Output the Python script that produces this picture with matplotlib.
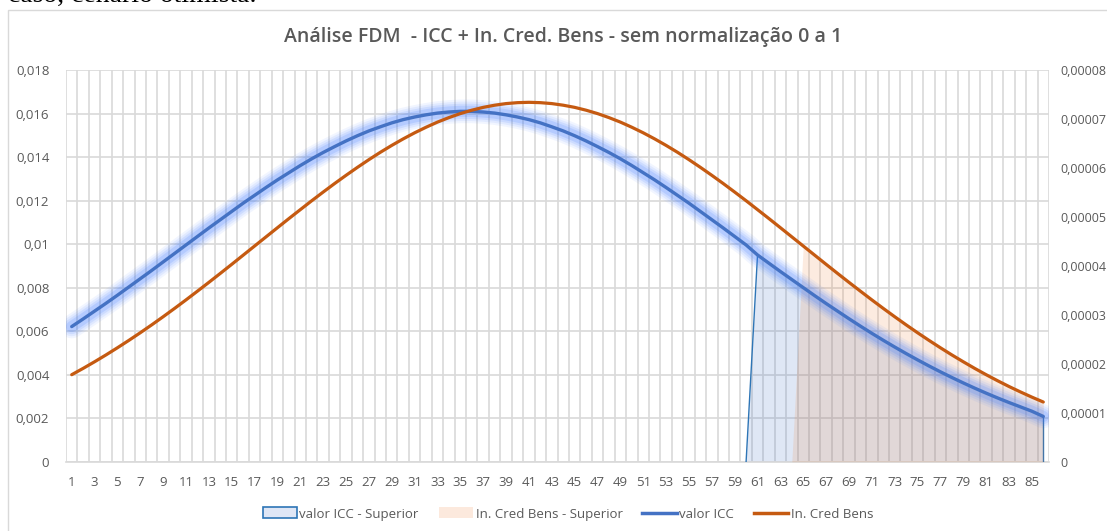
import numpy as np
import matplotlib.pyplot as plt
from matplotlib.patches import Patch, Rectangle
from matplotlib.lines import Line2D

# categories 1..86
categorias = list(range(1, 87))

# valor ICC (eixo principal)
valor_icc = [
    0.00621, 0.00656, 0.00692, 0.00728, 0.00765, 0.00803, 0.00841, 0.00879, 0.00918, 0.00957,
    0.00996, 0.01035, 0.01074, 0.01112, 0.01150, 0.01188, 0.01224, 0.01260, 0.01295, 0.01328,
    0.01361, 0.01392, 0.01421, 0.01448, 0.01474, 0.01498, 0.01520, 0.01539, 0.01557, 0.01572,
    0.01584, 0.01594, 0.01602, 0.01607, 0.01610, 0.01610, 0.01607, 0.01602, 0.01594, 0.01584,
    0.01572, 0.01557, 0.01539, 0.01520, 0.01498, 0.01474, 0.01448, 0.01421, 0.01392, 0.01361,
    0.01328, 0.01295, 0.01260, 0.01224, 0.01188, 0.01150, 0.01112, 0.01074, 0.01035, 0.00996,
    0.00950, 0.00912, 0.00874, 0.00837, 0.00800, 0.00763, 0.00727, 0.00692, 0.00657, 0.00623,
    0.00590, 0.00558, 0.00527, 0.00497, 0.00468, 0.00440, 0.00413, 0.00387, 0.00362, 0.00338,
    0.00315, 0.00293, 0.00272, 0.00252, 0.00232, 0.00208,
]

# In. Cred Bens (eixo secundario), em 1e-5
in_cred_bens_e5 = [
    1.777, 1.906, 2.041, 2.181, 2.327, 2.478, 2.634, 2.795, 2.961, 3.131,
    3.305, 3.483, 3.663, 3.846, 4.031, 4.218, 4.405, 4.592, 4.779, 4.965,
    5.148, 5.330, 5.507, 5.681, 5.849, 6.012, 6.169, 6.319, 6.460, 6.593,
    6.717, 6.831, 6.936, 7.028, 7.110, 7.179, 7.237, 7.281, 7.314, 7.333,
    7.340, 7.333, 7.314, 7.281, 7.237, 7.179, 7.110, 7.028, 6.936, 6.831,
    6.717, 6.593, 6.460, 6.319, 6.169, 6.012, 5.849, 5.681, 5.507, 5.330,
    5.148, 4.965, 4.779, 4.592, 4.405, 4.218, 4.031, 3.846, 3.663, 3.483,
    3.305, 3.131, 2.961, 2.795, 2.634, 2.478, 2.327, 2.181, 2.041, 1.906,
    1.777, 1.654, 1.536, 1.425, 1.319, 1.219,
]
in_cred_bens = [v * 1e-5 for v in in_cred_bens_e5]

# areas "Superior": zero ate o corte, depois igual a serie
corte_icc = 61
corte_bens = 65
icc_superior = [v if c >= corte_icc else 0.0 for c, v in zip(categorias, valor_icc)]
bens_superior = [v if c >= corte_bens else 0.0 for c, v in zip(categorias, in_cred_bens)]

y1_ticks = [0, 0.002, 0.004, 0.006, 0.008, 0.010, 0.012, 0.014, 0.016, 0.018]
y1_labels = ['0', '0,002', '0,004', '0,006', '0,008', '0,01', '0,012', '0,014', '0,016', '0,018']
y2_ticks = [0, 0.00001, 0.00002, 0.00003, 0.00004, 0.00005, 0.00006, 0.00007, 0.00008]
y2_labels = ['0', '0,00001', '0,00002', '0,00003', '0,00004', '0,00005', '0,00006', '0,00007', '0,00008']

titulo = 'Análise FDM  - ICC + In. Cred. Bens - sem normalização 0 a 1'

AZUL = '#4472C4'
LARANJA = '#C55A11'
CINZA = '#595959'
GRADE = '#d9d9d9'

fig = plt.figure(figsize=(11.07, 5.31), dpi=100)

# chart frame (behind everything)
fig.patches.append(Rectangle((8 / 1107, -0.1), 1.2, 1.1 - 9.5 / 531, transform=fig.transFigure,
                             facecolor='white', edgecolor=GRADE, linewidth=1.0, zorder=-10))

# document text peeking above the chart
fig.text(8 / 1107, 1 - 2 / 531, 'caso, cenário otimista.', family='Liberation Serif',
         fontsize=20, va='baseline', ha='left', color='black')

ax = fig.add_axes([66 / 1107, 1 - 461.7 / 531, (1049 - 66) / 1107, (461.7 - 70) / 531])
ax.patch.set_visible(False)
ax2 = ax.twinx()

x = np.array(categorias)

# grid
ax.set_xlim(0.5, 86.5)
ax.set_ylim(0, 0.018)
ax.set_xticks(x[::2])
ax.set_xticklabels([str(c) for c in categorias[::2]])
ax.set_xticks(np.arange(0.5, 87, 1.0), minor=True)
ax.set_yticks(y1_ticks)
ax.set_yticklabels(y1_labels)
ax.grid(True, which='minor', axis='x', color=GRADE, linewidth=1.2)
ax.grid(True, which='major', axis='y', color=GRADE, linewidth=1.2)
ax.set_axisbelow(True)
ax.tick_params(axis='both', which='both', length=0, colors=CINZA, labelsize=9.5)
ax.tick_params(axis='x', pad=10)
ax.tick_params(axis='y', pad=12)

ax2.set_ylim(0, 0.00008)
ax2.set_yticks(y2_ticks)
ax2.set_yticklabels(y2_labels)
ax2.tick_params(axis='y', length=0, colors=CINZA, labelsize=9, pad=8)

for a in (ax, ax2):
    for s in a.spines.values():
        s.set_visible(False)
ax.spines['bottom'].set_visible(True)
ax.spines['bottom'].set_color(GRADE)
ax.spines['bottom'].set_linewidth(1.2)

for lab in ax.get_xticklabels() + ax.get_yticklabels() + ax2.get_yticklabels():
    lab.set_family('Open Sans')

# areas
ax.fill_between(x, icc_superior, 0, color=AZUL, alpha=0.17, linewidth=0, zorder=2)
i0 = corte_icc - 2
ax.plot(x[i0:], icc_superior[i0:], color='#2E75B6', linewidth=1.0, zorder=3)
ax.vlines(x[-1], 0, icc_superior[-1], color='#2E75B6', linewidth=1.0, zorder=3)
ax2.fill_between(x, bens_superior, 0, color='#ED7D31', alpha=0.15, linewidth=0, zorder=2)

# linha ICC com brilho (desenhada em ax2 usando a escala de ax)
for lw, al in [(17, 0.07), (14, 0.09), (11, 0.12), (8, 0.16)]:
    ax2.plot(x, valor_icc, color='#3d7bff', linewidth=lw, alpha=al, transform=ax.transData,
             solid_capstyle='round', zorder=4)
ax2.plot(x, valor_icc, color=AZUL, linewidth=2.4, transform=ax.transData,
         solid_capstyle='round', zorder=5)
ax2.plot(x, in_cred_bens, color=LARANJA, linewidth=2.3, solid_capstyle='round', zorder=6)
ax2.set_ylim(0, 0.00008)

fig.text(563 / 1107, 1 - 37 / 531, titulo, ha='center', va='center', fontsize=14,
         color=CINZA, family='Open Sans', weight='semibold')

handles = [
    Patch(facecolor='#dfe6f5', edgecolor='#2E75B6', linewidth=1.2),
    Patch(facecolor='#fce9dd', edgecolor='none'),
    Line2D([0], [0], color=AZUL, linewidth=2.5),
    Line2D([0], [0], color=LARANJA, linewidth=2.5),
]
nomes = ['valor ICC - Superior', 'In. Cred Bens - Superior', 'valor ICC', 'In. Cred Bens']
leg = fig.legend(handles, nomes, loc='center', bbox_to_anchor=(568 / 1107, 1 - 514 / 531),
                 ncol=4, frameon=False, handlelength=2.6, handleheight=0.9,
                 handletextpad=0.2, columnspacing=1.5, prop={'family': 'Open Sans', 'size': 9.5})
for t in leg.get_texts():
    t.set_color(CINZA)

fig.savefig('out.png', dpi=100)
